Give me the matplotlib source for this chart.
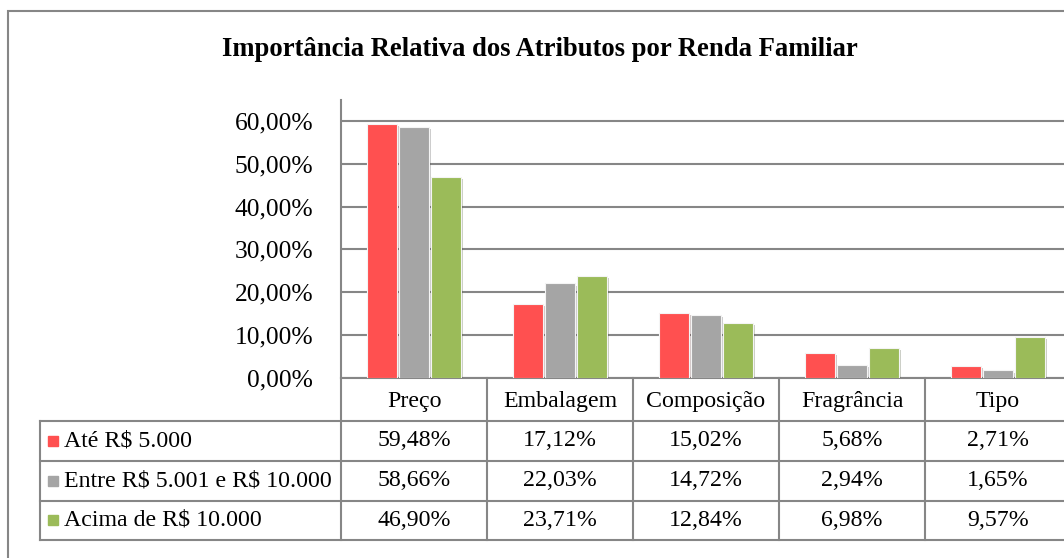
import matplotlib.pyplot as plt
import matplotlib.patheffects as pe
from matplotlib.transforms import blended_transform_factory
from matplotlib.patches import Rectangle
import numpy as np

categorias = ['Preço', 'Embalagem', 'Composição', 'Fragrância', 'Tipo']
series = ['Até R$ 5.000', 'Entre R$ 5.001 e R$ 10.000', 'Acima de R$ 10.000']
ate_5000 = [59.48, 17.12, 15.02, 5.68, 2.71]
entre_5001_10000 = [58.66, 22.03, 14.72, 2.94, 1.65]
acima_10000 = [46.90, 23.71, 12.84, 6.98, 9.57]
cores = ['#FF5050', '#A5A5A5', '#9BBB59']
yticks = [0, 10, 20, 30, 40, 50, 60]

W, H = 1064, 558
plt.rcParams['font.family'] = ['Liberation Serif', 'DejaVu Serif']
fig = plt.figure(figsize=(W / 100, H / 100), dpi=100)

def fx(p):
    return p / W

def fy(p):
    return (H - p) / H

grid_c = '#868686'

# moldura do gráfico
fig.patches.append(Rectangle((fx(8), fy(600)), fx(1100), fy(11) - fy(600),
                             transform=fig.transFigure, fill=False,
                             edgecolor=grid_c, linewidth=1.5))

fig.text(fx(540), fy(50), 'Importância Relativa dos Atributos por Renda Familiar',
         ha='center', va='center', fontsize=19.2, fontweight='bold')

ax = fig.add_axes([fx(341), fy(377.5), fx(1071 - 341), fy(100) - fy(377.5)])
ax.set_xlim(-0.5, len(categorias) - 0.5)
ax.set_ylim(0, 65)

x = np.arange(len(categorias))
largura = 0.205
passo = 0.219
valores = [ate_5000, entre_5001_10000, acima_10000]
for i, (vals, cor) in enumerate(zip(valores, cores)):
    ax.bar(x + (i - 1) * passo, vals, largura, color=cor, zorder=3,
           edgecolor='#F4F4F4', linewidth=0.8,
           path_effects=[pe.SimplePatchShadow(offset=(1.5, -1.5), alpha=0.25), pe.Normal()])

ax.set_yticks(yticks)
ax.set_yticklabels([f'{v:.2f}%'.replace('.', ',') for v in yticks], fontsize=18.4)
ax.tick_params(axis='y', length=0, pad=20)
ax.set_xticks([])
ax.yaxis.grid(True, color=grid_c, linewidth=1.5, zorder=0)
for s in ['top', 'right']:
    ax.spines[s].set_visible(False)
ax.spines['left'].set_color(grid_c)
ax.spines['left'].set_linewidth(1.5)
ax.spines['bottom'].set_color(grid_c)
ax.spines['bottom'].set_linewidth(1.5)

# tabela de dados
tr = blended_transform_factory(ax.transData, fig.transFigure)
linhas_y = [377.5, 421, 460.7, 500.5, 540]
for j in range(len(categorias) + 1):
    fig.add_artist(plt.Line2D([j - 0.5, j - 0.5], [fy(377.5), fy(540)], transform=tr,
                              color=grid_c, linewidth=1.5))
for p in linhas_y[1:]:
    fig.add_artist(plt.Line2D([fx(40), fx(1100)], [fy(p), fy(p)], transform=fig.transFigure,
                              color=grid_c, linewidth=1.5))
fig.add_artist(plt.Line2D([fx(40), fx(40)], [fy(421), fy(540)], transform=fig.transFigure,
                          color=grid_c, linewidth=1.5))

fs = 17.2
for j, cat in enumerate(categorias):
    fig.text(j, fy(401), cat, transform=tr, ha='center', va='center', fontsize=fs)

for i, (nome, vals, cor) in enumerate(zip(series, valores, cores)):
    yc = (linhas_y[i + 1] + linhas_y[i + 2]) / 2
    fig.patches.append(Rectangle((fx(48), fy(yc + 5)), fx(10), fy(yc - 5) - fy(yc + 5),
                                 transform=fig.transFigure, color=cor))
    fig.text(fx(64), fy(yc), nome, ha='left', va='center', fontsize=fs, parse_math=False)
    for j, v in enumerate(vals):
        fig.text(j, fy(yc), f'{v:.2f}%'.replace('.', ','), transform=tr,
                 ha='center', va='center', fontsize=fs)

fig.savefig('out.png', dpi=100)
